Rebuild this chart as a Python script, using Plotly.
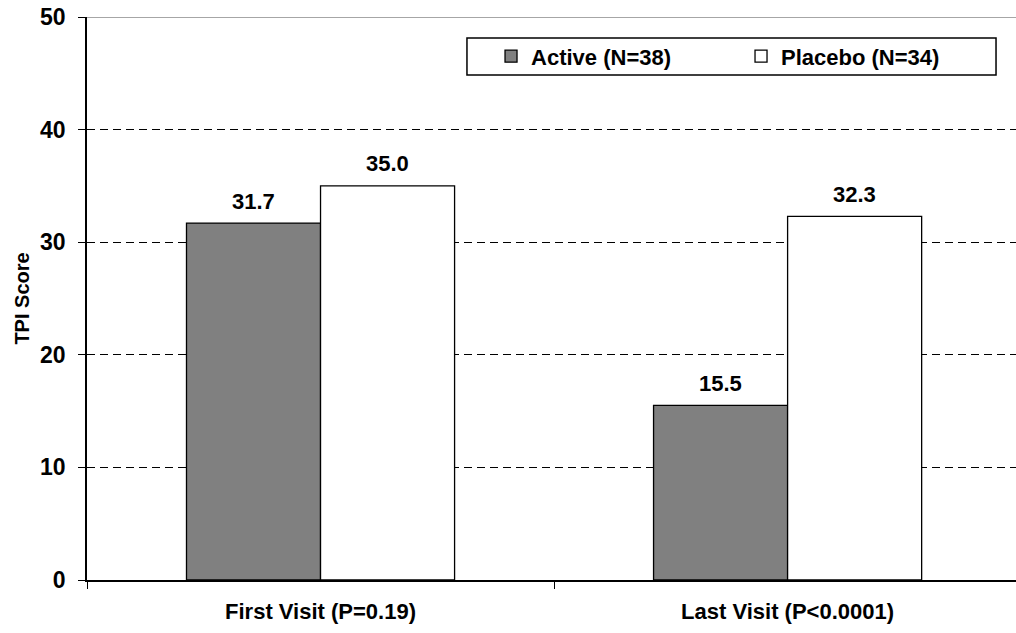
import plotly.graph_objects as go

categories = ["First Visit (P=0.19)", "Last Visit (P<0.0001)"]
active = [31.7, 15.5]
placebo = [35.0, 32.3]
series_names = ["Active (N=38)", "Placebo (N=34)"]
y_ticks = [0, 10, 20, 30, 40, 50]

FONT = "Liberation Sans, Arial, sans-serif"

fig = go.Figure()
fig.add_trace(go.Bar(
    x=categories, y=active, name="<b>" + series_names[0] + "</b>",
    marker=dict(color="#808080", line=dict(color="black", width=1.3)),
))
fig.add_trace(go.Bar(
    x=categories, y=placebo, name="<b>" + series_names[1] + "</b>",
    marker=dict(color="white", line=dict(color="black", width=1.3)),
))

# value labels above bars
for vals, shift in ((active, -67), (placebo, 67)):
    for c, v in zip(categories, vals):
        fig.add_annotation(x=c, y=v, text="<b>%.1f</b>" % v, showarrow=False,
                           xshift=shift, yshift=22,
                           font=dict(family=FONT, size=22, color="black"))

# top border line
fig.add_shape(type="line", xref="paper", yref="y", x0=0, x1=1, y0=50, y1=50,
              line=dict(color="#888888", width=1.5), layer="above")
# legend frame
fig.add_shape(type="rect", xref="paper", yref="paper",
              x0=0.409, x1=0.9785, y0=0.897, y1=0.9627,
              line=dict(color="black", width=1.5), fillcolor="white", layer="below")

fig.update_layout(
    width=1016, height=633,
    margin=dict(l=87, r=0, t=17, b=53, autoexpand=False),
    paper_bgcolor="white", plot_bgcolor="white",
    barmode="group", bargap=0.426, bargroupgap=0,
    font=dict(family=FONT, size=22, color="black"),
    legend=dict(
        orientation="h", x=0.4349, y=0.93, xanchor="left", yanchor="middle",
        borderwidth=0, bgcolor="rgba(0,0,0,0)",
        font=dict(family=FONT, size=22, color="black"),
        entrywidth=205, entrywidthmode="pixels",
    ),
    showlegend=True,
)
fig.update_xaxes(
    type="category", range=[-0.5, 1.489],
    tickvals=categories,
    ticktext=["<b>%s</b>" % c.replace("<", "&lt;") for c in categories],
    showline=True, linecolor="black", linewidth=1.5,
    ticks="outside", tickson="boundaries", ticklen=7, tickcolor="black",
    tickfont=dict(family=FONT, size=22, color="black"),
    ticklabelstandoff=11, ticklabeloverflow="allow",
    showgrid=False, zeroline=False, automargin=False,
)
fig.update_yaxes(
    range=[0, 50], tickvals=y_ticks, ticktext=["<b>%d</b>" % t for t in y_ticks],
    showline=True, linecolor="black", linewidth=1.5,
    ticks="outside", ticklen=7, tickcolor="black",
    tickfont=dict(family=FONT, size=23, color="black"),
    ticklabelstandoff=8, ticklabeloverflow="allow",
    showgrid=True, gridcolor="black", gridwidth=1.4, griddash="8px,5px",
    zeroline=False, automargin=False,
    title=dict(text="<b>TPI Score</b>", font=dict(family=FONT, size=20), standoff=5),
)

fig.write_html("out.html", config={"displayModeBar": False},
               post_script="document.body.style.margin='0';")
